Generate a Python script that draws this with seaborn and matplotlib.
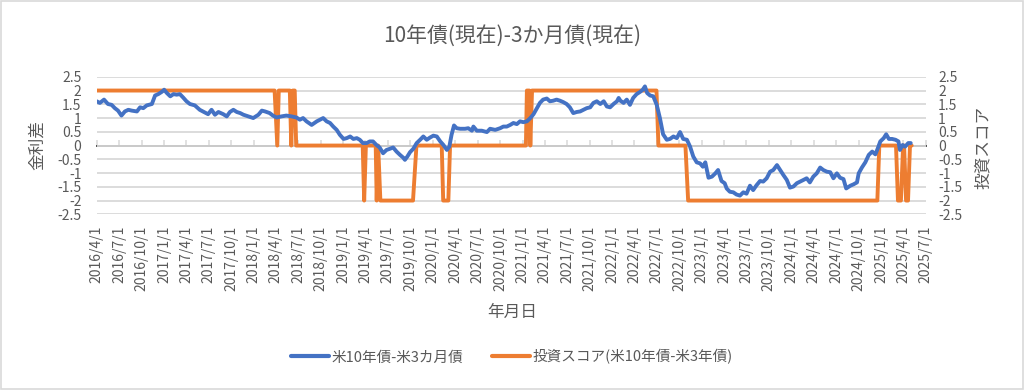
import matplotlib
matplotlib.use("Agg")
import matplotlib.pyplot as plt
import matplotlib.dates as mdates
from matplotlib.ticker import FuncFormatter, NullFormatter
from matplotlib.patches import Rectangle
import pandas as pd
import seaborn as sns

# ---------------- data ----------------
blue_dates = [
    "2016-04-01", "2016-04-14", "2016-05-01", "2016-05-17", "2016-06-01", "2016-06-14", "2016-06-27",
    "2016-07-11", "2016-07-25", "2016-08-08", "2016-08-22", "2016-09-12", "2016-09-25", "2016-10-08",
    "2016-10-22", "2016-11-12", "2016-11-25", "2016-12-08", "2016-12-22", "2017-01-01", "2017-01-12",
    "2017-01-26", "2017-02-08", "2017-02-21", "2017-03-06", "2017-03-19", "2017-04-02", "2017-04-16",
    "2017-05-06", "2017-05-26", "2017-06-16", "2017-06-29", "2017-07-13", "2017-07-27", "2017-08-10",
    "2017-08-30", "2017-09-13", "2017-09-26", "2017-10-10", "2017-10-24", "2017-11-07", "2017-11-20",
    "2017-12-10", "2017-12-30", "2018-01-20", "2018-02-03", "2018-02-16", "2018-03-07", "2018-03-20",
    "2018-04-04", "2018-04-24", "2018-05-14", "2018-06-04", "2018-06-24", "2018-07-08", "2018-07-21",
    "2018-08-04", "2018-08-25", "2018-09-15", "2018-09-28", "2018-10-11", "2018-10-25", "2018-11-08",
    "2018-11-21", "2018-12-05", "2018-12-18", "2019-01-02", "2019-01-15", "2019-01-29", "2019-02-11",
    "2019-02-25", "2019-03-09", "2019-03-22", "2019-04-06", "2019-04-19", "2019-05-02", "2019-05-16",
    "2019-05-29", "2019-06-12", "2019-06-26", "2019-07-09", "2019-07-23", "2019-08-06", "2019-08-20",
    "2019-09-02", "2019-09-09", "2019-09-19", "2019-09-30", "2019-10-13", "2019-10-27", "2019-11-10",
    "2019-11-23", "2019-12-07", "2019-12-20", "2020-01-03", "2020-01-17", "2020-01-31", "2020-02-13",
    "2020-02-27", "2020-03-08", "2020-03-17", "2020-03-27", "2020-04-07", "2020-04-21", "2020-05-11",
    "2020-05-24", "2020-06-08", "2020-06-14", "2020-06-28", "2020-07-18", "2020-08-08", "2020-08-21",
    "2020-09-11", "2020-10-01", "2020-10-14", "2020-10-28", "2020-11-11", "2020-11-24", "2020-12-08",
    "2020-12-21", "2021-01-04", "2021-01-18", "2021-02-01", "2021-02-14", "2021-02-28", "2021-03-12",
    "2021-03-25", "2021-04-09", "2021-04-22", "2021-05-05", "2021-05-19", "2021-06-02", "2021-06-15",
    "2021-06-29", "2021-07-12", "2021-07-26", "2021-08-09", "2021-08-23", "2021-09-06", "2021-09-19",
    "2021-10-03", "2021-10-16", "2021-10-30", "2021-11-13", "2021-11-27", "2021-12-10", "2021-12-23",
    "2022-01-06", "2022-01-20", "2022-01-27", "2022-02-03", "2022-02-16", "2022-03-01", "2022-03-14",
    "2022-03-27", "2022-04-10", "2022-04-24", "2022-05-05", "2022-05-14", "2022-05-23", "2022-06-04",
    "2022-06-17", "2022-07-01", "2022-07-14", "2022-07-27", "2022-08-11", "2022-08-24", "2022-09-07",
    "2022-09-21", "2022-10-04", "2022-10-17", "2022-11-01", "2022-11-14", "2022-11-27", "2022-12-11",
    "2022-12-25", "2023-01-05", "2023-01-15", "2023-01-28", "2023-02-11", "2023-02-25", "2023-03-08",
    "2023-03-22", "2023-04-04", "2023-04-12", "2023-04-25", "2023-05-09", "2023-05-22", "2023-06-05",
    "2023-06-19", "2023-07-02", "2023-07-16", "2023-07-29", "2023-08-12", "2023-08-26", "2023-09-08",
    "2023-09-22", "2023-10-06", "2023-10-19", "2023-11-03", "2023-11-16", "2023-11-29", "2023-12-13",
    "2023-12-26", "2024-01-09", "2024-01-23", "2024-02-06", "2024-02-19", "2024-03-03", "2024-03-16",
    "2024-03-30", "2024-04-13", "2024-04-27", "2024-05-10", "2024-05-24", "2024-06-07", "2024-06-20",
    "2024-07-04", "2024-07-17", "2024-07-31", "2024-08-11", "2024-08-28", "2024-09-10", "2024-09-24",
    "2024-10-01", "2024-10-14", "2024-10-28", "2024-11-11", "2024-11-25", "2024-12-08", "2024-12-17",
    "2024-12-28", "2025-01-11", "2025-01-21", "2025-02-01", "2025-02-14", "2025-02-28", "2025-03-12",
    "2025-03-18", "2025-03-29", "2025-04-08", "2025-04-21", "2025-05-01",
]
blue_values = [
    1.61, 1.55, 1.67, 1.51, 1.48, 1.36, 1.27,
    1.09, 1.24, 1.30, 1.27, 1.24, 1.39, 1.36,
    1.46, 1.51, 1.82, 1.87, 1.95, 2.03, 1.91,
    1.79, 1.87, 1.85, 1.87, 1.75, 1.61, 1.51,
    1.46, 1.30, 1.20, 1.14, 1.30, 1.12, 1.22,
    1.14, 1.06, 1.22, 1.30, 1.22, 1.18, 1.12,
    1.06, 1.00, 1.12, 1.27, 1.24, 1.18, 1.09,
    1.02, 1.06, 1.09, 1.06, 1.02, 0.94, 1.00,
    0.88, 0.75, 0.88, 0.94, 1.00, 0.88, 0.82,
    0.69, 0.57, 0.39, 0.24, 0.27, 0.33, 0.24,
    0.27, 0.21, 0.09, 0.09, 0.15, 0.15, 0.02,
    -0.07, -0.28, -0.16, -0.12, -0.07, -0.22, -0.34,
    -0.44, -0.52, -0.40, -0.24, -0.12, 0.09, 0.21,
    0.33, 0.21, 0.29, 0.36, 0.33, 0.15, 0.02,
    -0.16, -0.04, 0.39, 0.73, 0.63, 0.61, 0.61,
    0.63, 0.54, 0.69, 0.54, 0.54, 0.49, 0.61,
    0.57, 0.63, 0.69, 0.69, 0.75, 0.82, 0.78,
    0.88, 0.85, 0.88, 1.00, 1.14, 1.36, 1.55,
    1.67, 1.71, 1.61, 1.63, 1.67, 1.63, 1.58,
    1.51, 1.39, 1.18, 1.22, 1.24, 1.30, 1.36,
    1.39, 1.55, 1.61, 1.51, 1.61, 1.42, 1.39,
    1.51, 1.61, 1.73, 1.63, 1.55, 1.67, 1.48,
    1.73, 1.87, 1.95, 2.03, 2.15, 1.91, 1.82,
    1.79, 1.48, 1.00, 0.41, 0.21, 0.24, 0.33,
    0.27, 0.49, 0.24, 0.21, -0.04, -0.40, -0.61,
    -0.65, -0.77, -0.61, -1.17, -1.13, -1.01, -0.89,
    -1.29, -1.37, -1.56, -1.68, -1.70, -1.78, -1.82,
    -1.70, -1.75, -1.46, -1.62, -1.44, -1.29, -1.31,
    -1.19, -0.95, -0.89, -0.71, -0.89, -1.07, -1.25,
    -1.53, -1.49, -1.37, -1.31, -1.25, -1.19, -1.34,
    -1.13, -1.01, -0.80, -0.89, -0.95, -0.97, -1.19,
    -1.01, -1.17, -1.22, -1.56, -1.46, -1.41, -1.34,
    -1.01, -0.80, -0.61, -0.34, -0.22, -0.32, -0.12,
    0.15, 0.27, 0.41, 0.24, 0.24, 0.21, 0.15,
    -0.16, 0.02, -0.04, 0.09, 0.09,
]

score_dates = [
    "2016-04-01", "2018-03-27", "2018-04-07", "2018-04-13", "2018-05-28", "2018-06-03", "2018-06-09",
    "2018-06-17", "2018-06-23", "2019-03-21", "2019-03-27", "2019-04-03", "2019-05-13", "2019-05-17",
    "2019-05-23", "2019-06-01", "2019-10-12", "2019-10-26", "2020-02-06", "2020-02-12", "2020-03-04",
    "2020-03-11", "2021-01-14", "2021-01-18", "2021-01-28", "2021-02-01", "2021-02-08", "2022-06-30",
    "2022-07-08", "2022-10-26", "2022-11-06", "2024-12-16", "2024-12-24", "2025-03-02", "2025-03-10",
    "2025-03-22", "2025-03-31", "2025-04-04", "2025-04-12", "2025-04-20", "2025-04-28", "2025-05-05",
]
score_values = [
    2, 2, 0, 2, 2, 0, 2,
    2, 0, 0, -2, 0, 0, -2,
    0, -2, -2, 0, 0, -2, -2,
    0, 0, 2, 2, 0, 2, 2,
    0, 0, -2, -2, 0, 0, -2,
    -2, 0, 0, -2, -2, 0, 0,
]

y_ticks = [-2.5, -2, -1.5, -1, -0.5, 0, 0.5, 1, 1.5, 2, 2.5]
title = "10年債(現在)-3か月債(現在)"
series_blue = "米10年債-米3カ月債"
series_orange = "投資スコア(米10年債-米3年債)"
left_label = "金利差"
right_label = "投資スコア"
x_label = "年月日"

# ---------------- style ----------------
sns.set_theme(style="white")
plt.rcParams["font.family"] = ["Noto Sans CJK JP", "DejaVu Sans"]

TEXT = "#595959"
GRID = "#D9D9D9"
BLUE = "#4472C4"
ORANGE = "#ED7D31"

fig = plt.figure(figsize=(10.24, 3.9), dpi=100)
ax = fig.add_axes([0.0944, 0.4505, 0.8096, 0.3526])
ax2 = ax.twinx()

df_b = pd.DataFrame({"date": pd.to_datetime(blue_dates), "value": blue_values})
df_s = pd.DataFrame({"date": pd.to_datetime(score_dates), "value": score_values})

sns.lineplot(data=df_s, x="date", y="value", ax=ax, color=ORANGE, lw=2.8,
             estimator=None, legend=False)
sns.lineplot(data=df_b, x="date", y="value", ax=ax2, color=BLUE, lw=2.8,
             estimator=None, legend=False)

fmt_y = FuncFormatter(lambda v, p: f"{v:g}")
for a in (ax, ax2):
    a.set_ylim(-2.5, 2.5)
    a.set_yticks(y_ticks)
    a.yaxis.set_major_formatter(fmt_y)
    a.set_xlabel("")
    a.set_ylabel("")
    for s in a.spines.values():
        s.set_visible(False)

quarters = mdates.MonthLocator(bymonth=[1, 4, 7, 10], bymonthday=1)
ax.set_xlim(pd.Timestamp("2016-04-01"), pd.Timestamp("2025-07-01"))
ax.xaxis.set_major_locator(quarters)
ax.xaxis.set_major_formatter(FuncFormatter(
    lambda v, p: (lambda d: f"{d.year}/{d.month}/{d.day}")(mdates.num2date(v))))
ax.tick_params(axis="x", rotation=90, length=0, pad=8, labelsize=10, colors=TEXT)
ax.tick_params(axis="y", length=0, pad=11, labelsize=10, colors=TEXT)
ax2.tick_params(axis="y", length=0, pad=9, labelsize=10, colors=TEXT)
ax.grid(axis="y", color=GRID, lw=1.3)
ax.grid(axis="x", visible=False)
ax2.grid(False)
ax.set_axisbelow(True)

# horizontal axis line at 0 with small outward tick marks (no labels)
sec = ax.secondary_xaxis(0.5)
sec.xaxis.set_major_locator(mdates.MonthLocator(bymonth=[1, 4, 7, 10], bymonthday=1))
sec.xaxis.set_major_formatter(NullFormatter())
sec.xaxis.set_minor_formatter(NullFormatter())
sec.tick_params(axis="x", which="both", direction="out", length=4, width=1.1, color=GRID,
                labelbottom=False, labeltop=False)
sec.tick_params(axis="x", which="minor", length=0)
sec.spines["bottom"].set_color(GRID)
sec.spines["bottom"].set_linewidth(1.3)

# texts
fig.text(0.5, 1 - 36 / 390, title, ha="center", va="center", fontsize=15, color=TEXT)
fig.text(0.5, 1 - 312 / 390, x_label, ha="center", va="center", fontsize=12, color=TEXT)
fig.text(37 / 1024, 1 - 145 / 390, left_label, ha="center", va="center", rotation=90,
         fontsize=12, color=TEXT)
fig.text(983 / 1024, 1 - 147 / 390, right_label, ha="center", va="center", rotation=90,
         fontsize=12, color=TEXT)

h_blue = plt.Line2D([], [], color=BLUE, lw=3)
h_orange = plt.Line2D([], [], color=ORANGE, lw=3)
leg = fig.legend([h_blue, h_orange], [series_blue, series_orange], loc="center",
                 bbox_to_anchor=(0.5, 1 - 357 / 390), ncol=2, frameon=False, fontsize=10.5,
                 handlelength=2.6, handletextpad=0.15, columnspacing=2.0)
for t in leg.get_texts():
    t.set_color(TEXT)

fig.patches.append(Rectangle((0.001, 0.002), 0.998, 0.996, transform=fig.transFigure,
                             fill=False, ec=GRID, lw=1.2))

fig.savefig("out.png", dpi=100)
